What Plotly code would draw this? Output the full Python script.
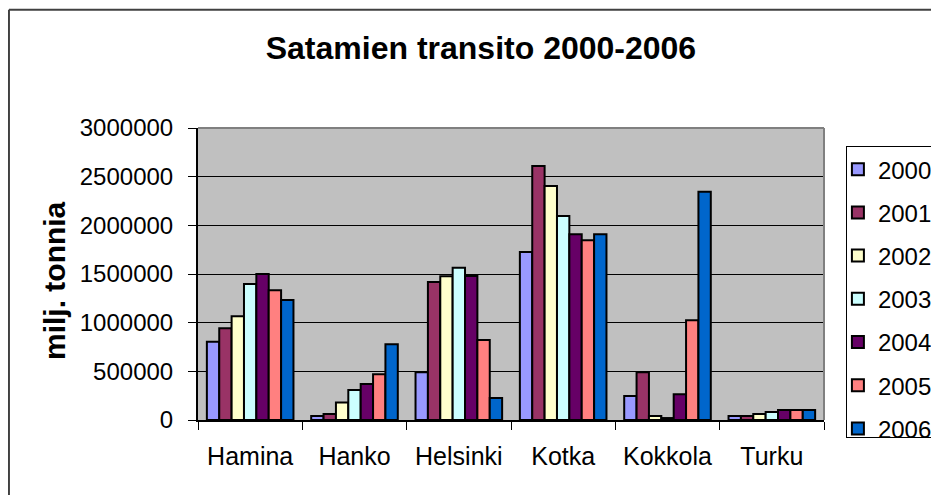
import plotly.graph_objects as go

ports = ["Hamina", "Hanko", "Helsinki", "Kotka", "Kokkola", "Turku"]
years = ["2000", "2001", "2002", "2003", "2004", "2005", "2006"]

# tonnes per port, one list per year
v2000 = [805000, 41000, 490000, 1726000, 247000, 41000]
v2001 = [942000, 62000, 1418000, 2610000, 490000, 41000]
v2002 = [1065000, 181000, 1476000, 2404000, 41000, 62000]
v2003 = [1397000, 308000, 1565000, 2096000, 20000, 82000]
v2004 = [1500000, 370000, 1479000, 1908000, 264000, 103000]
v2005 = [1332000, 469000, 822000, 1846000, 1024000, 103000]
v2006 = [1233000, 777000, 226000, 1908000, 2346000, 103000]
series = [v2000, v2001, v2002, v2003, v2004, v2005, v2006]

# old Excel chart palette
COLORS = ["#9999FF", "#993366", "#FFFFCC", "#CCFFFF",
          "#660066", "#FF8080", "#0066CC"]
FONT = "Liberation Sans, Arial, sans-serif"

fig = go.Figure()
for i, (yr, vals) in enumerate(zip(years, series)):
    fig.add_trace(go.Bar(
        x=ports, y=vals, name=yr, legendgroup=yr,
        marker=dict(color=COLORS[i], line=dict(color="black", width=2)),
    ))

# the page body has an 8px margin, so the margins below are shifted by it;
# the frame is a bit wider than the window so the legend can run off the edge
fig.update_layout(
    width=950, height=495,
    paper_bgcolor="white", plot_bgcolor="#C0C0C0",
    margin=dict(l=190, r=134, t=120, b=83, autoexpand=False),
    font=dict(family=FONT, color="black", size=24),
    barmode="group", bargap=0.17, bargroupgap=0,
    title=dict(text="<b>Satamien transito 2000-2006</b>",
               font=dict(size=32), x=0.452,
               xref="paper", xanchor="center", yref="container",
               y=1 - 40 / 495, yanchor="middle"),
    legend=dict(x=1.035, xanchor="left", y=0.938,
                yanchor="top", bgcolor="white", bordercolor="black",
                borderwidth=1, tracegroupgap=9, indentation=-9,
                font=dict(size=24)),
    showlegend=True,
)

fig.update_xaxes(
    automargin=False,
    showline=True, linecolor="black", linewidth=2,
    ticks="outside", tickson="boundaries", ticklen=8, tickcolor="black",
    tickwidth=1, tickfont=dict(size=25), ticklabelstandoff=13,
)
fig.update_yaxes(
    automargin=False,
    range=[0, 3000000], dtick=500000, tickformat="d",
    showline=True, linecolor="black", linewidth=2,
    gridcolor="black", gridwidth=1, zeroline=False,
    ticks="outside", ticklen=8, tickcolor="black", tickwidth=1,
    tickfont=dict(size=24), ticklabelstandoff=10,
)

# y axis title
fig.add_annotation(text="<b>milj. tonnia</b>", textangle=-90,
                   xref="paper", yref="paper", x=-0.23, y=0.476,
                   xanchor="center", yanchor="middle",
                   showarrow=False, font=dict(size=30))

# grey frame on the top/right of the plot area
for x0, y0, x1, y1 in [(0, 1, 1, 1), (1, 0, 1, 1)]:
    fig.add_shape(type="line", xref="paper", yref="paper",
                  x0=x0, y0=y0, x1=x1, y1=y1,
                  line=dict(color="#808080", width=2))

# outer chart border (top and left edges fall inside the window)
fig.add_shape(type="line", xref="paper", yref="paper",
              x0=-0.302, y0=1.405, x1=1.25, y1=1.405,
              line=dict(color="#404040", width=2))
fig.add_shape(type="line", xref="paper", yref="paper",
              x0=-0.302, y0=-0.3, x1=-0.302, y1=1.405,
              line=dict(color="#404040", width=2))

fig.write_html("out.html")
